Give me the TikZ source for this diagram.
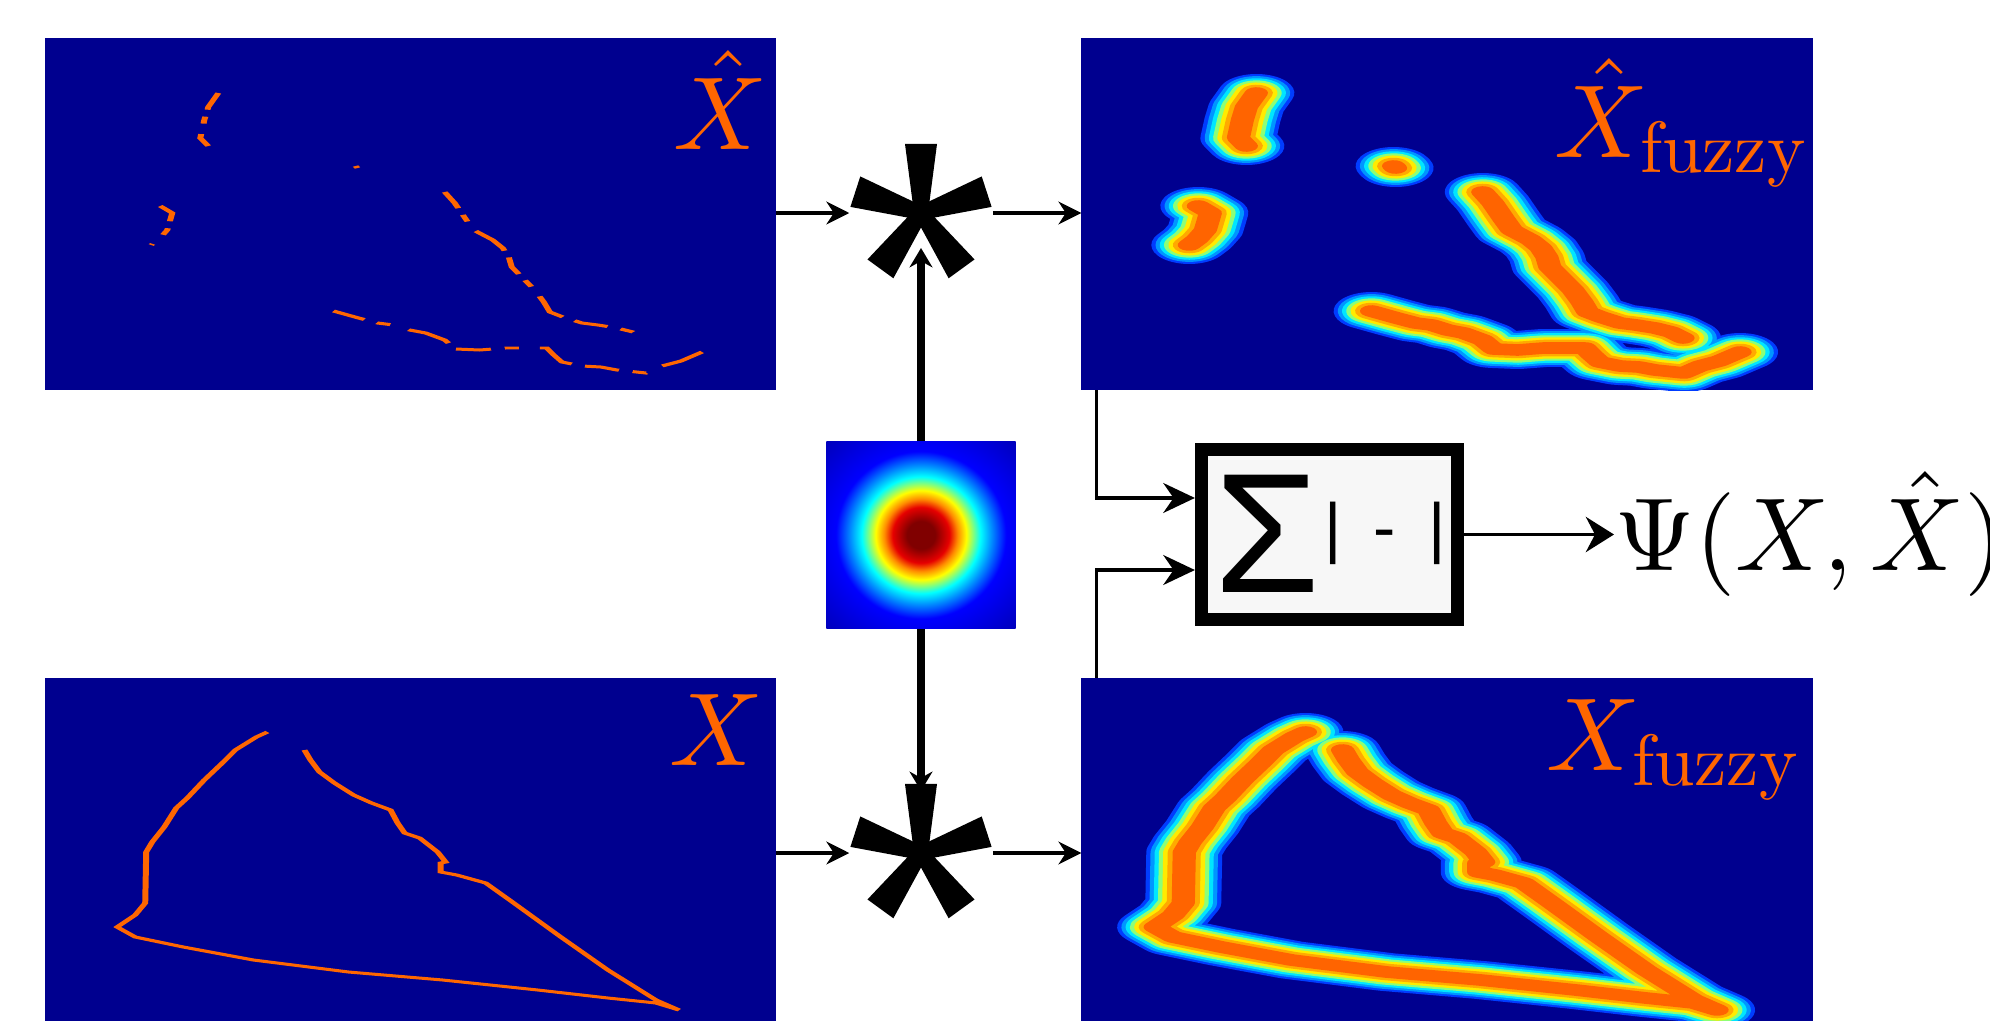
\documentclass[tikz,border=0pt]{standalone}
\usepackage{amsmath}
\usepackage[no-math]{fontspec}
\newfontfamily\sansfont{Liberation Sans}
\usetikzlibrary{arrows.meta,positioning}
% scalable math fonts
\DeclareFontShape{OML}{cmm}{m}{it}{<->cmmi10}{}
\DeclareFontShape{OMS}{cmsy}{m}{n}{<->cmsy10}{}
\DeclareFontShape{OMX}{cmex}{m}{n}{<->cmex10}{}
\DeclareFontShape{OT1}{cmr}{m}{n}{<->cmr10}{}

\definecolor{jetbg}{RGB}{0,0,143}
\definecolor{jetorange}{RGB}{255,102,0}
\definecolor{fz1}{RGB}{0,60,255}
\definecolor{fz2}{RGB}{0,150,255}
\definecolor{fz3}{RGB}{0,230,255}
\definecolor{fz4}{RGB}{140,255,120}
\definecolor{fz5}{RGB}{255,235,0}
\definecolor{fz6}{RGB}{255,170,0}
\definecolor{fz7}{RGB}{255,100,0}
\definecolor{gdred}{RGB}{128,0,0}
\definecolor{gred}{RGB}{230,0,0}
\definecolor{gorange}{RGB}{255,140,0}
\definecolor{gyellow}{RGB}{255,255,0}
\definecolor{gcyan}{RGB}{0,255,255}
\definecolor{gsky}{RGB}{0,140,255}
\definecolor{gblue}{RGB}{0,0,255}
\definecolor{gedge}{RGB}{0,0,190}
\definecolor{gcorner}{RGB}{0,0,150}

\pgfdeclareradialshading{jetgauss}{\pgfpoint{0bp}{0bp}}{%
  color(0bp)=(gdred); color(3.7bp)=(gdred); color(7.5bp)=(gred);
  color(9.7bp)=(gorange); color(12bp)=(gyellow); color(15.7bp)=(gcyan);
  color(18.7bp)=(gsky); color(22.5bp)=(gblue); color(35bp)=(gedge);
  color(50bp)=(gcorner)}

\tikzset{
  panel/.style={fill=jetbg, minimum width=7.31cm, minimum height=3.52cm,
    inner sep=0pt, outer sep=0pt},
  lbl/.style={text=jetorange, font=\fontsize{29.5}{32}\selectfont,
    inner sep=0pt, anchor=base east},
  conv/.style={minimum width=1.42cm, minimum height=1.2cm, inner sep=0pt},
  kernel/.style={shade, shading=jetgauss, minimum width=1.89cm,
    minimum height=1.86cm, inner sep=0pt},
  lossbox/.style={draw, line width=3.7pt, fill=black!3, minimum width=2.56cm,
    minimum height=1.70cm, inner sep=0pt},
  sharp/.style={draw=jetorange, line width=0.85pt},
  arr/.style={-{Stealth[length=6.5pt,width=6.5pt]}, line width=0.9pt},
  karr/.style={-{Stealth[length=5.5pt,width=6.5pt]}, line width=2pt},
  inarr/.style={-{Stealth[length=9pt,width=8.5pt]}, line width=1pt},
}

% traced curves, in pixels from the top left corner of a map
\newcommand{\xhatpath}{(173,55) -- (163,69) -- (159,82) -- (155,100) -- (163,108)
  (310,128) -- (312,130)
  (115,168) -- (127,175) -- (125,182) -- (122,192) -- (114,201) -- (106,207)
  (399,154) -- (409,165) -- (420,181) -- (428,192) -- (447,202) -- (457,210)
  -- (463,219) -- (466,229) -- (479,242) -- (489,252) -- (498,264) -- (504,274)
  -- (517,279) -- (536,285) -- (552,287) -- (571,290) -- (587,294) -- (599,300)
  (288,273) -- (313,280) -- (332,285) -- (348,287) -- (364,292) -- (380,295)
  -- (399,302) -- (410,311) -- (434,312) -- (460,310) -- (479,310) -- (501,310)
  -- (508,317) -- (516,324) -- (536,328) -- (555,329) -- (571,332) -- (600,335)
  -- (616,328) -- (635,323) -- (656,314)}
\newcommand{\xpath}{(222,54) -- (211,59) -- (190,72) -- (178,84) -- (159,102)
  -- (142,120) -- (131,130) -- (119,149) -- (107,164) -- (101,174) -- (100,225)
  -- (90,237) -- (72,249) -- (90,259) -- (138,269) -- (208,282) -- (303,294)
  -- (397,302) -- (492,312) -- (562,320) -- (610,325) -- (633,332) -- (610,322)
  -- (562,292) -- (515,259) -- (468,225) -- (440,205) -- (411,197) -- (395,194)
  -- (395,185) -- (400,184) -- (392,174) -- (374,160) -- (359,155) -- (352,145)
  -- (345,132) -- (326,125) -- (308,117) -- (289,105) -- (274,94) -- (265,82)
  -- (259,72)}
\newcommand{\fuzzyline}[1]{%
  \foreach \w/\c in {10.8/fz1,9.6/fz2,8.4/fz3,7.2/fz4,6/fz5,4.7/fz6,3.3/fz7}
    {\draw[line width=\w pt, draw=\c, line cap=round, line join=round] #1;}}
\newcommand{\convstar}[1]{%
  \foreach \a in {90,18,162,-54,234}
    \fill[shift={(#1)}, rotate=\a] (0,-0.07cm) -- (0.69cm,-0.16cm)
      -- (0.69cm,0.16cm) -- (0,0.07cm) -- cycle;}

\begin{document}
\begin{tikzpicture}[x=0.01cm, y=-0.01cm]
  \useasboundingbox (0,0) rectangle (1990,1021);

  % the four maps
  \node[panel] (xhat)   at (410.5,214) {};
  \node[panel] (xhatfz) at (1447,214) {};
  \node[panel] (xtrue)  at (410.5,854) {};
  \node[panel] (xfz)    at (1447,854) {};

  % map pixels are twice as wide as tall
  \begin{scope}[transform canvas={xscale=2}, x=0.005cm, shift={(45,38)}]
    \draw[sharp, dash pattern=on 5pt off 2pt on 2pt off 3pt on 7pt off 2pt] \xhatpath;
  \end{scope}
  \begin{scope}[transform canvas={xscale=2}, x=0.005cm, shift={(45,678)}]
    \draw[sharp] \xpath;
  \end{scope}
  \begin{scope}[transform canvas={xscale=2}, x=0.005cm, shift={(1081.5,38)}]
    \clip (0,0) rectangle (731,352);
    \fuzzyline{\xhatpath}
  \end{scope}
  \begin{scope}[transform canvas={xscale=2}, x=0.005cm, shift={(1081.5,678)}]
    \clip (0,0) rectangle (731,352);
    \fuzzyline{\xpath}
  \end{scope}

  \node[lbl] (lxhat)   at (768,149)  {$\hat{X}$};
  \node[lbl] (lxhatfz) at (1809,157) {$\hat{X}_{\mathrm{fuzzy}}$};
  \node[lbl] (lx)      at (764,765)  {$X$};
  \node[lbl] (lxfz)    at (1801,770) {$X_{\mathrm{fuzzy}}$};

  % Gaussian kernel and the two convolutions
  \node[kernel] (kernel) at (921,535) {};
  \node[conv] (conv1) at (921,213) {};
  \node[conv] (conv2) at (921,853) {};
  \convstar{conv1}
  \convstar{conv2}

  \draw[arr] (xhat.east |- conv1) -- (conv1.west);
  \draw[arr] (conv1.east) -- (xhatfz.west |- conv1);
  \draw[arr] (xtrue.east |- conv2) -- (conv2.west);
  \draw[arr] (conv2.east) -- (xfz.west |- conv2);
  \draw[karr, shorten >=0.35cm] (kernel.north) -- (conv1.center);
  \draw[karr, shorten >=0.62cm] (kernel.south) -- (conv2.center);

  % sum of absolute differences
  \node[lossbox] (loss) at (1329.5,534.5) {};
  \node[font=\sansfont\fontsize{48.5}{50}\selectfont, inner sep=0pt]
    (sigma) at (1267,534) {Σ};
  \node[font=\sansfont\fontsize{19}{20}\selectfont, inner sep=0pt]
    (absdiff) at (1385,533.5) {|\hspace{9.2pt}-\hspace{9.2pt}|};
  \draw[inarr] ([xshift=0.15cm]xhatfz.south west) |- ([yshift=0.365cm]loss.west);
  \draw[inarr] ([xshift=0.15cm]xfz.north west) |- ([yshift=-0.355cm]loss.west);

  \node[font=\fontsize{29.5}{32}\selectfont, anchor=base west, inner sep=0pt]
    (psi) at (1614,570) {$\Psi(X,\hat{X})$};
  \draw[-{Stealth[length=8pt,width=10pt]}, line width=1pt] (loss.east) -- (loss.east -| psi.west);
\end{tikzpicture}
\end{document}
